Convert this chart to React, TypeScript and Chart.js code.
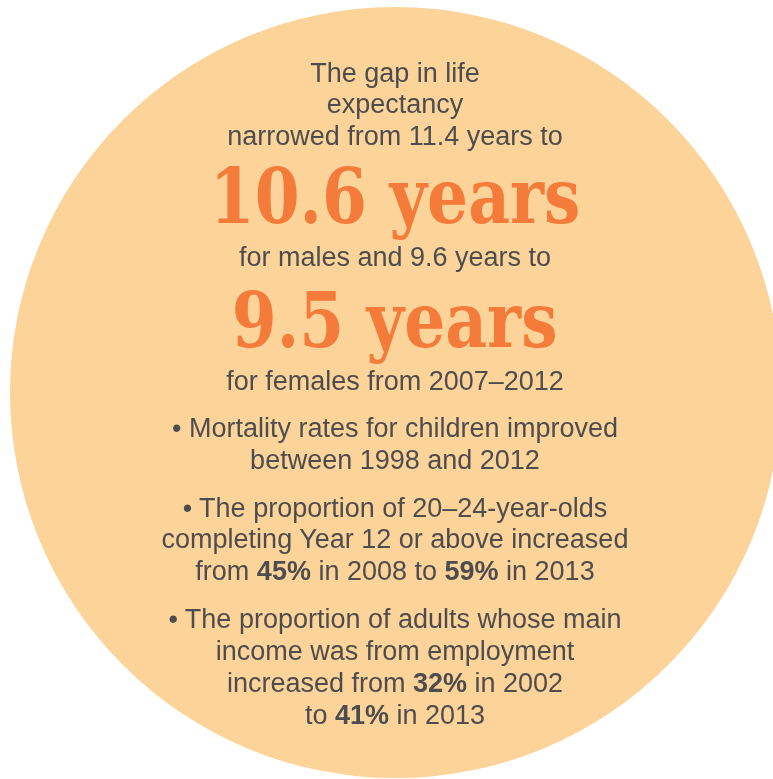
import React, { useEffect, useRef } from "react";
import { Chart, registerables } from "chart.js";

Chart.register(...registerables);

// ---- data ----
const circleLabels = ["Gap in life expectancy"];
const circleValues = [100];

type Seg = [string, boolean];
const introLines: string[] = [
  "The gap in life",
  "expectancy",
  "narrowed from 11.4 years to",
];
const bigMale = "10.6 years";
const maleLine = "for males and 9.6 years to";
const bigFemale = "9.5 years";
const femaleLine = "for females from 2007\u20132012";
const bulletLines: Seg[][] = [
  [["\u2022 Mortality rates for children improved", false]],
  [["between 1998 and 2012", false]],
  [["\u2022 The proportion of 20\u201324-year-olds", false]],
  [["completing Year 12 or above increased", false]],
  [["from ", false], ["45%", true], [" in 2008 to ", false], ["59%", true], [" in 2013", false]],
  [["\u2022 The proportion of adults whose main", false]],
  [["income was from employment", false]],
  [["increased from ", false], ["32%", true], [" in 2002", false]],
  [["to ", false], ["41%", true], [" in 2013", false]],
];

// ---- layout ----
const W = 773;
const H = 779;
const CX = 395;
const CY = 392.5;
const R = 385.5;
const PEACH = "#FCD398";
const ORANGE = "#F47B3A";
const GREY = "#4D4D4F";
const SANS = "'Liberation Sans', Arial, sans-serif";
const SERIF = "'DejaVu Serif', serif";
const SANS_SIZE = 27;
const BIG_SIZE = 76;
const BIG_SCALE = 0.85;
const introBase = [83, 114, 146];
const bigMaleBase = 223;
const maleBase = 267;
const bigFemaleBase = 347;
const femaleBase = 391;
const bulletBase = [438, 470, 518, 549, 581, 629, 661, 693, 725];
const TEXT_CX = 395;

function Line({ base, size, children, family, color, weight, scale }: any) {
  const top = base - 0.8465 * size;
  return (
    <div
      style={{
        position: "absolute",
        left: TEXT_CX - 400,
        width: 800,
        top,
        textAlign: "center",
        fontFamily: family,
        fontSize: size,
        lineHeight: `${size}px`,
        color,
        fontWeight: weight,
        whiteSpace: "nowrap",
      }}
    >
      <span style={{ display: "inline-block", transform: scale ? `scaleX(${scale})` : undefined }}>
        {children}
      </span>
    </div>
  );
}

export default function App() {
  const canvasRef = useRef<HTMLCanvasElement | null>(null);

  useEffect(() => {
    document.body.style.margin = "0";
    const canvas = canvasRef.current;
    if (!canvas) return;
    const chart = new Chart(canvas, {
      type: "pie",
      data: {
        labels: circleLabels,
        datasets: [
          {
            data: circleValues,
            backgroundColor: [PEACH],
            borderWidth: 0,
            hoverOffset: 0,
            offset: 0,
          },
        ],
      },
      options: {
        animation: false,
        responsive: true,
        maintainAspectRatio: false,
        events: [],
        layout: { padding: 0 },
        plugins: {
          legend: { display: false },
          tooltip: { enabled: false },
          title: { display: false },
        },
      },
    });
    return () => chart.destroy();
  }, []);

  const sansLine = (text: React.ReactNode, base: number, key?: any) => (
    <Line key={key} base={base} size={SANS_SIZE} family={SANS} color={GREY} weight={400}>
      {text}
    </Line>
  );

  return (
    <div style={{ position: "relative", width: W, height: H, overflow: "hidden", background: "#fff" }}>
      <div
        style={{
          position: "absolute",
          left: CX - R,
          top: CY - R,
          width: 2 * R,
          height: 2 * R,
        }}
      >
        <canvas ref={canvasRef} />
      </div>
      {introLines.map((t, i) => sansLine(t, introBase[i], "i" + i))}
      <Line base={bigMaleBase} size={BIG_SIZE} family={SERIF} color={ORANGE} weight={700} scale={BIG_SCALE}>
        {bigMale}
      </Line>
      {sansLine(maleLine, maleBase)}
      <Line base={bigFemaleBase} size={BIG_SIZE} family={SERIF} color={ORANGE} weight={700} scale={BIG_SCALE}>
        {bigFemale}
      </Line>
      {sansLine(femaleLine, femaleBase)}
      {bulletLines.map((segs, i) =>
        sansLine(
          segs.map(([t, b], j) => (
            <span key={j} style={{ fontWeight: b ? 700 : 400 }}>
              {t}
            </span>
          )),
          bulletBase[i],
          "b" + i
        )
      )}
    </div>
  );
}
